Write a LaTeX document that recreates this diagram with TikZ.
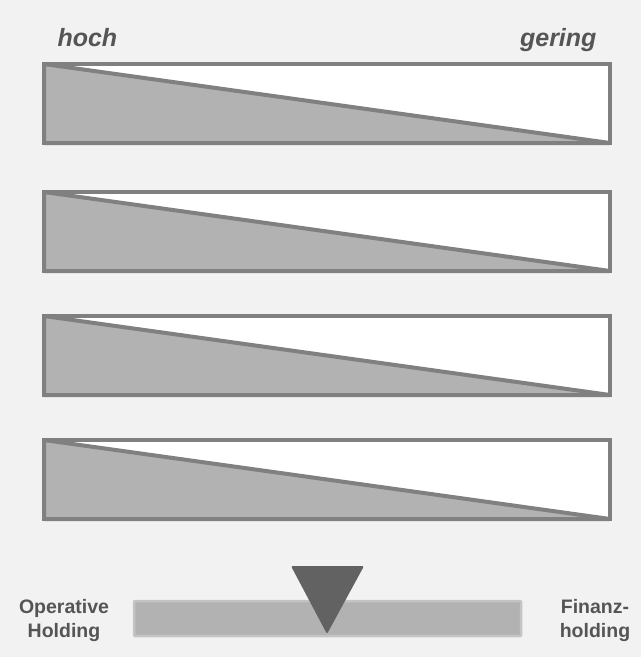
\documentclass[tikz,border=0pt]{standalone}
\usepackage{fontspec}
\setmainfont{Liberation Sans}
\usepackage{xcolor}
\usetikzlibrary{positioning}
\usetikzlibrary{calc}

\definecolor{bgback}{HTML}{F2F2F2}
\definecolor{barline}{HTML}{808080}
\definecolor{barfill}{HTML}{B2B2B2}
\definecolor{textgray}{HTML}{555555}
\definecolor{pointer}{HTML}{626262}
\definecolor{scaleline}{HTML}{C4C4C4}

\begin{document}
\begin{tikzpicture}[x=1pt,y=-1pt,
	  bar/.style={draw=barline,line width=4pt},
	  wedge/.style={fill=barfill,draw=barline,line width=4pt,line join=round},
	  end/.style={font=\bfseries\itshape\fontsize{25}{28}\selectfont,text=textgray},
	  pole/.style={font=\bfseries\fontsize{19.5}{24}\selectfont,text=textgray,align=center}]
	          \fill[bgback] (0,0) rectangle (641,657);
	          \useasboundingbox (0,0) rectangle (641,657);
	          \node[end,anchor=base west] (hoch) at (54,46) {hoch};
	          \node[end,anchor=base east] (gering) at (600,46) {gering};
	          % four scales
	          \foreach \y in {64,192,316,440} {
	            \fill[white] (44,\y) rectangle (610,\y+79);
	            \draw[wedge] (44,\y) -- (610,\y+79) -- (44,\y+79) -- cycle;
	            \draw[bar] (44,\y) rectangle (610,\y+79);
	          }
	          % holding scale
	          \draw[fill=barfill,draw=scaleline,line width=2.5pt,rounded corners=1pt] (134,601) rectangle (521,636);
	          \fill[pointer,rounded corners=2pt] (291,566) -- (364,566) -- (327,634) -- cycle;
	          \node[pole] (op) at (64,620) {Operative\\Holding};
	          \node[pole] (fin) at (595,620) {Finanz-\\holding};
	        \end{tikzpicture}
\end{document}
